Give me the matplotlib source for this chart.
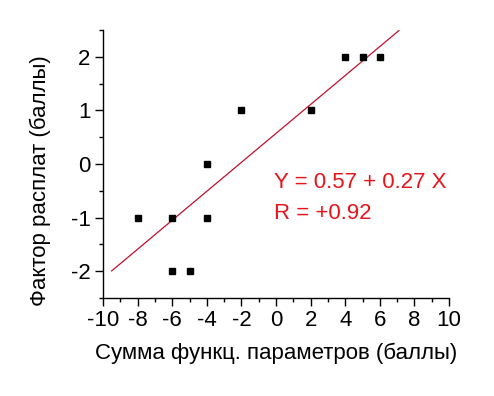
"""Scatter of payment factor vs. functional parameter sum with linear fit."""

import matplotlib
matplotlib.use("Agg")
import matplotlib.pyplot as plt
from matplotlib.ticker import MultipleLocator

# Data
func_sum = [-8, -6, -6, -5, -4, -4, -2, 2, 4, 5, 6]
pay_factor = [-1, -1, -2, -2, -1, 0, 1, 1, 2, 2, 2]

fit_intercept = 0.57
fit_slope = 0.27
fit_x = [-9.5, 7.1]
fit_r = 0.92

x_ticks = list(range(-10, 11, 2))
y_ticks = [-2, -1, 0, 1, 2]

plt.rcParams['font.family'] = ['Liberation Sans', 'DejaVu Sans']
plt.rcParams['axes.unicode_minus'] = False

FS = 16

fig = plt.figure(figsize=(4.94, 3.96), dpi=100)
ax = fig.add_axes([0.2085, 0.2475, 0.7005, 0.677])

ax.plot(func_sum, pay_factor, 's', color='black', markersize=5, zorder=3)
ax.plot(fit_x, [fit_intercept + fit_slope * x for x in fit_x],
        color='#c0102a', linewidth=0.9)

ax.text(-0.1, -0.34, f"Y = {fit_intercept:.2f} + {fit_slope:.2f} X",
        color='#e8141c', fontsize=FS, ha='left', va='center')
ax.text(-0.1, -0.92, f"R = +{fit_r:.2f}",
        color='#e8141c', fontsize=FS, ha='left', va='center')

ax.set_xlim(-10, 10)
ax.set_ylim(-2.5, 2.5)
ax.set_xticks(x_ticks)
ax.set_yticks(y_ticks)
ax.xaxis.set_minor_locator(MultipleLocator(1))
ax.yaxis.set_minor_locator(MultipleLocator(0.5))

for side in ('top', 'right'):
    ax.spines[side].set_visible(False)
for side in ('left', 'bottom'):
    ax.spines[side].set_linewidth(1.0)

ax.tick_params(which='major', direction='out', length=6, width=1,
               labelsize=FS, pad=3)
ax.tick_params(which='minor', direction='out', length=3, width=1)

ax.set_xlabel('Сумма функц. параметров (баллы)', fontsize=FS)
ax.set_ylabel('Фактор расплат (баллы)', fontsize=FS)
ax.xaxis.label.set_va('center')
ax.yaxis.label.set_va('center')
ax.xaxis.set_label_coords(0.5, -0.205)
ax.yaxis.set_label_coords(-0.182, 0.437)

fig.savefig('out.png', dpi=100)
